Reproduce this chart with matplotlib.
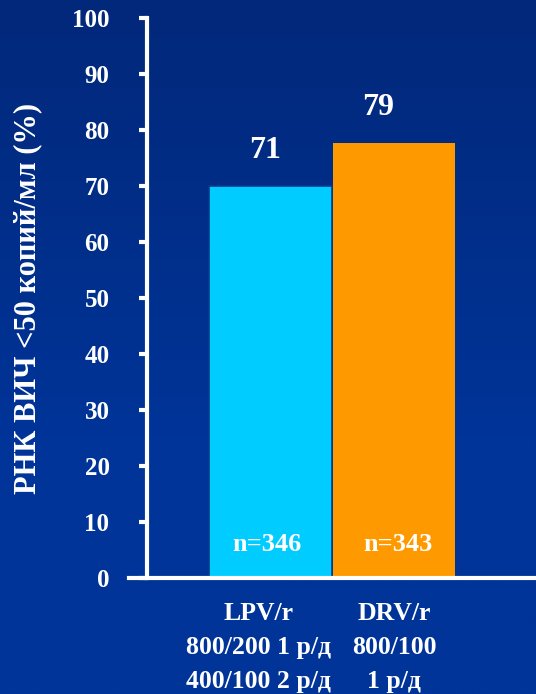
import matplotlib.pyplot as plt
import numpy as np

groups = ["LPV/r\n800/200 1 р/д\n400/100 2 р/д", "DRV/r\n800/100\n1 р/д"]
heights = [70, 77.7]
labels = ["71", "79"]
ns = ["n=346", "n=343"]
colors = ["#00CCFF", "#FF9900"]
yticks = list(range(0, 101, 10))

font = "Liberation Serif"
W, H = 536, 694
fig = plt.figure(figsize=(W / 100, H / 100), dpi=100)

# gradient background
bg = fig.add_axes([0, 0, 1, 1], zorder=0)
grad = np.linspace(0, 1, 256).reshape(-1, 1)
top = np.array([2, 40, 122]) / 255
bot = np.array([0, 52, 152]) / 255
img = top + (bot - top) * np.clip(grad * 1.6, 0, 1)[..., None]
bg.imshow(img.reshape(256, 1, 3), aspect="auto", extent=[0, 1, 0, 1])
bg.axis("off")

ax = fig.add_axes([147 / W, (H - 578) / H, (W - 147) / W, (578 - 18) / H], zorder=1)
ax.patch.set_alpha(0)

x = np.arange(len(groups))
bars = ax.bar(x, heights, width=0.99, color=colors, zorder=2)
bars[0].set_edgecolor("#0A3A8A")
bars[0].set_linewidth(1.2)

for xi, h, lab, n in zip(x, heights, labels, ns):
    ax.text(xi - 0.04 if xi == 0 else xi - 0.13, h + 3.8, lab, ha="center", va="bottom",
            color="white", fontsize=23, fontweight="bold", family=font)
    ax.text(xi - 0.03 if xi == 0 else xi + 0.03, 6, n, ha="center", va="center",
            color="white", fontsize=19, fontweight="bold", family=font)

ax.set_xlim(-1.0, 2.15)
ax.set_ylim(0, 100)
ax.set_yticks(yticks)
ax.set_yticklabels([str(t) for t in yticks], color="white", fontsize=18,
                   fontweight="bold", family=font)
ax.tick_params(axis="y", length=6, width=3, color="white", pad=21)
ax.set_xticks([])

for s in ["top", "right", "bottom"]:
    ax.spines[s].set_visible(False)
ax.spines["left"].set_color("white")
ax.spines["left"].set_linewidth(3)

# baseline extending left of the y axis
ax.axhline(0, xmin=-0.045, xmax=1, color="white", lw=3, clip_on=False, zorder=3)

for xi, g in zip([-0.1, 1.0], groups):
    ax.text(xi, -4.2, g, ha="center", va="top", color="white", fontsize=18.5,
            fontweight="bold", family=font, linespacing=1.62,
            transform=ax.transData, clip_on=False)

fig.text(28 / W, 1 - 298 / H, "РНК ВИЧ <50 копий/мл (%)", rotation=90,
         ha="center", va="center", color="white", fontsize=22,
         fontweight="bold", family=font)

fig.savefig("out.png", dpi=100)
